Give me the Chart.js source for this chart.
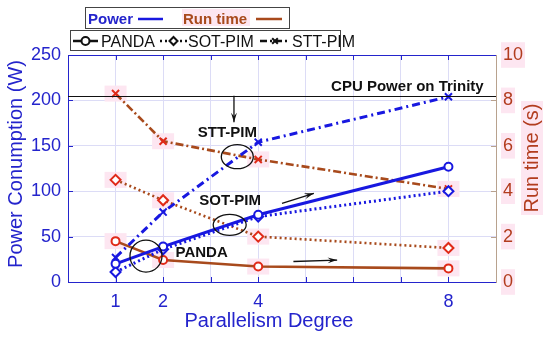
<!DOCTYPE html>
<html>
<head>
<meta charset="utf-8">
<script src="https://cdn.jsdelivr.net/npm/chart.js@4.4.1/dist/chart.umd.min.js"></script>
<style>
  html, body { margin: 0; padding: 0; background: #fff; }
</style>
</head>
<body>
<canvas id="chart" width="550" height="338"></canvas>
<script>
// Data
const parallelism = [1, 2, 4, 8];
const xTickLabels = [1, 2, 4, 8];
const pandaPower = [20, 39, 74, 127];
const sotPower = [11, 36, 72, 100];
const sttPower = [27, 77, 154, 204];
const pandaRuntime = [1.8, 0.97, 0.68, 0.6];
const sotRuntime = [4.5, 3.6, 2.0, 1.5];
const sttRuntime = [8.3, 6.2, 5.4, 4.1];
const cpuPower = 205;

const FONT = "'Liberation Sans', Arial, sans-serif";
const BLUE = '#1818e0';
const BLUE_TEXT = '#2424cc';
const BROWN = '#a84a1c';
const RED = '#e02a18';
const RUN_TEXT = '#b23c1e';
const GRID = '#dcdcf6';
const TAN = '#b8a28e';
const PINK = '#fde6f1';

Chart.defaults.font.family = FONT;

function pts(values) {
  return values.map((v, i) => ({ x: parallelism[i], y: v }));
}

function powerSet(label, values, dash, style, radius) {
  return {
    label, data: pts(values), yAxisID: 'y', order: 1,
    borderColor: BLUE, borderWidth: 3, borderDash: dash,
    pointStyle: style, pointRadius: radius, pointBorderWidth: 2,
    pointBorderColor: BLUE, pointBackgroundColor: '#fff'
  };
}

function runSet(label, values, dash, style, radius) {
  return {
    label, data: pts(values), yAxisID: 'y2', order: 2,
    borderColor: BROWN, borderWidth: 2.6, borderDash: dash,
    pointStyle: style, pointRadius: radius, pointBorderWidth: 2,
    pointBorderColor: RED, pointBackgroundColor: '#fff'
  };
}

// annotation positions in data units (x, watts)
const notes = [
  { text: 'STT-PIM', x: 3.35, y: 160 },
  { text: 'SOT-PIM', x: 3.41, y: 85 },
  { text: 'PANDA', x: 2.81, y: 27.5 }
];
const ellipses = [
  { x: 3.56, y: 138, rx: 16, ry: 12 },
  { x: 3.40, y: 63, rx: 16.5, ry: 10.5 },
  { x: 1.64, y: 28.6, rx: 16, ry: 16 }
];
const arrows = [
  { x1: 3.49, y1: cpuPower, x2: 3.49, y2: 176 },
  { x1: 4.50, y1: 86.7, x2: 5.17, y2: 97.7 },
  { x1: 4.74, y1: 22.6, x2: 5.66, y2: 24.2 }
];

function drawArrow(ctx, x1, y1, x2, y2) {
  const a = Math.atan2(y2 - y1, x2 - x1);
  ctx.beginPath();
  ctx.moveTo(x1, y1);
  ctx.lineTo(x2, y2);
  ctx.stroke();
  ctx.beginPath();
  ctx.moveTo(x2, y2);
  ctx.lineTo(x2 - 10 * Math.cos(a - 0.3), y2 - 10 * Math.sin(a - 0.3));
  ctx.lineTo(x2 - 6 * Math.cos(a), y2 - 6 * Math.sin(a));
  ctx.lineTo(x2 - 10 * Math.cos(a + 0.3), y2 - 10 * Math.sin(a + 0.3));
  ctx.closePath();
  ctx.fill();
}

const decor = {
  id: 'decor',
  beforeDatasetsDraw(chart) {
    const ctx = chart.ctx;
    ctx.save();
    ctx.fillStyle = PINK;
    chart.data.datasets.forEach((ds, i) => {
      if (ds.yAxisID !== 'y2') return;
      chart.getDatasetMeta(i).data.forEach(p => {
        ctx.fillRect(p.x - 11, p.y - 8, 22, 16);
      });
    });
    ctx.restore();
  },
  afterDatasetsDraw(chart) {
    const ctx = chart.ctx;
    const xs = chart.scales.x, ys = chart.scales.y;
    const area = chart.chartArea;
    ctx.save();
    // CPU power reference line
    const cy = Math.round(ys.getPixelForValue(cpuPower)) + 0.5;
    ctx.strokeStyle = '#111';
    ctx.lineWidth = 1.2;
    ctx.beginPath();
    ctx.moveTo(area.left, cy);
    ctx.lineTo(area.right, cy);
    ctx.stroke();
    ctx.fillStyle = '#111';
    ctx.font = 'bold 15px ' + FONT;
    ctx.textAlign = 'right';
    ctx.fillText('CPU Power on Trinity', xs.getPixelForValue(8.74), cy - 6);

    ctx.textAlign = 'center';
    notes.forEach(n => {
      ctx.fillText(n.text, xs.getPixelForValue(n.x), ys.getPixelForValue(n.y));
    });
    ctx.lineWidth = 1.3;
    ellipses.forEach(e => {
      ctx.beginPath();
      ctx.ellipse(xs.getPixelForValue(e.x), ys.getPixelForValue(e.y), e.rx, e.ry, 0, 0, Math.PI * 2);
      ctx.stroke();
    });
    arrows.forEach(a => {
      drawArrow(ctx, xs.getPixelForValue(a.x1), ys.getPixelForValue(a.y1),
        xs.getPixelForValue(a.x2), ys.getPixelForValue(a.y2));
    });
    ctx.restore();
  },
  afterDraw(chart) {
    const ctx = chart.ctx;
    const area = chart.chartArea;
    const xs = chart.scales.x, ys = chart.scales.y, y2 = chart.scales.y2;
    ctx.save();

    // top border and inward tick marks
    ctx.strokeStyle = BLUE_TEXT;
    ctx.lineWidth = 1;
    ctx.beginPath();
    ctx.moveTo(area.left, area.top + 0.5);
    ctx.lineTo(area.right, area.top + 0.5);
    for (let v = 1; v <= 8; v++) {
      const px = Math.round(xs.getPixelForValue(v)) + 0.5;
      ctx.moveTo(px, area.bottom); ctx.lineTo(px, area.bottom - 5);
      ctx.moveTo(px, area.top); ctx.lineTo(px, area.top + 5);
    }
    for (let v = 50; v < 250; v += 50) {
      const py = Math.round(ys.getPixelForValue(v)) + 0.5;
      ctx.moveTo(area.left, py); ctx.lineTo(area.left + 5, py);
    }
    ctx.stroke();
    ctx.strokeStyle = TAN;
    ctx.beginPath();
    for (let v = 2; v < 10; v += 2) {
      const py = Math.round(y2.getPixelForValue(v)) + 0.5;
      ctx.moveTo(area.right, py); ctx.lineTo(area.right - 5, py);
    }
    ctx.stroke();

    // axis titles
    ctx.font = '20px ' + FONT;
    ctx.textAlign = 'center';
    ctx.textBaseline = 'middle';
    ctx.fillStyle = BLUE_TEXT;
    ctx.fillText('Parallelism Degree', 269, 321);
    ctx.save();
    ctx.translate(16, 164);
    ctx.rotate(-Math.PI / 2);
    ctx.fillText('Power Conumption (W)', 0, 0);
    ctx.restore();
    ctx.save();
    ctx.translate(532, 158);
    ctx.rotate(-Math.PI / 2);
    ctx.globalCompositeOperation = 'destination-over';
    ctx.fillStyle = PINK;
    ctx.fillRect(-57, -11, 114, 22);
    ctx.globalCompositeOperation = 'source-over';
    ctx.fillStyle = RUN_TEXT;
    ctx.fillText('Run time (s)', 0, 0);
    ctx.restore();

    // legend box 1: Power / Run time
    ctx.textAlign = 'left';
    ctx.textBaseline = 'alphabetic';
    ctx.fillStyle = '#fff';
    ctx.fillRect(85, 8, 204, 20);
    ctx.strokeStyle = '#444';
    ctx.lineWidth = 1;
    ctx.strokeRect(85.5, 7.5, 204, 21);
    ctx.fillStyle = PINK;
    ctx.fillRect(182, 9, 68, 17);
    ctx.font = 'bold 15px ' + FONT;
    ctx.fillStyle = BLUE_TEXT;
    ctx.fillText('Power', 88, 24);
    ctx.fillStyle = BROWN;
    ctx.fillText('Run time', 183, 24);
    ctx.lineWidth = 2.5;
    ctx.strokeStyle = BLUE;
    ctx.beginPath(); ctx.moveTo(138, 19); ctx.lineTo(163, 19); ctx.stroke();
    ctx.strokeStyle = BROWN;
    ctx.beginPath(); ctx.moveTo(256, 19); ctx.lineTo(282, 19); ctx.stroke();

    // legend box 2: series styles
    ctx.fillStyle = '#fff';
    ctx.fillRect(70, 30, 270, 21);
    ctx.strokeStyle = '#444';
    ctx.lineWidth = 1;
    ctx.strokeRect(70.5, 30.5, 270, 20);
    ctx.strokeStyle = '#111';
    const ly = 41;
    const samples = [
      { x1: 73, x2: 98, dash: [], style: 'circle', text: 'PANDA', tx: 101 },
      { x1: 160, x2: 187, dash: [2, 3], style: 'rectRot', text: 'SOT-PIM', tx: 188 },
      { x1: 260, x2: 290, dash: [7, 3, 2, 3], style: 'crossRot', text: 'STT-PIM', tx: 292 }
    ];
    ctx.font = '16px ' + FONT;
    samples.forEach(s => {
      ctx.lineWidth = 2.5;
      ctx.setLineDash(s.dash);
      ctx.beginPath(); ctx.moveTo(s.x1, ly); ctx.lineTo(s.x2, ly); ctx.stroke();
      ctx.setLineDash([]);
      ctx.lineWidth = 2;
      ctx.fillStyle = '#fff';
      Chart.helpers.drawPoint(ctx, { pointStyle: s.style, radius: 4, rotation: 0, borderWidth: 2 },
        (s.x1 + s.x2) / 2, ly);
      ctx.fillStyle = '#111';
      ctx.fillText(s.text, s.tx, 47);
    });
    ctx.restore();
  }
};

new Chart(document.getElementById('chart'), {
  type: 'line',
  data: {
    datasets: [
      powerSet('PANDA', pandaPower, [], 'circle', 4),
      powerSet('SOT-PIM', sotPower, [2, 3], 'rectRot', 5),
      powerSet('STT-PIM', sttPower, [8, 4, 2, 4], 'crossRot', 5),
      runSet('PANDA', pandaRuntime, [], 'circle', 4),
      runSet('SOT-PIM', sotRuntime, [2, 3], 'rectRot', 5),
      runSet('STT-PIM', sttRuntime, [8, 3, 2, 3], 'crossRot', 5)
    ]
  },
  options: {
    responsive: false,
    animation: false,
    layout: { padding: { top: 55, left: 0, right: 0, bottom: 0 } },
    plugins: { legend: { display: false }, tooltip: { enabled: false } },
    scales: {
      x: {
        type: 'linear', min: 0, max: 9,
        afterFit(s) { s.height = 56; },
        ticks: {
          stepSize: 1, autoSkip: false, maxRotation: 0, padding: 9,
          color: BLUE_TEXT, font: { size: 18 },
          callback: v => xTickLabels.includes(v) ? String(v) : ''
        },
        grid: { color: GRID, drawTicks: false },
        border: { color: BLUE_TEXT }
      },
      y: {
        position: 'left', min: 0, max: 250,
        afterFit(s) { s.width = 68; },
        ticks: { stepSize: 50, padding: 7, color: BLUE_TEXT, font: { size: 18 } },
        grid: { color: GRID, drawTicks: false },
        border: { color: BLUE_TEXT }
      },
      y2: {
        position: 'right', min: 0, max: 10,
        afterFit(s) { s.width = 54; },
        ticks: {
          stepSize: 2, padding: 7, color: RUN_TEXT, font: { size: 18 },
          backdropColor: PINK, showLabelBackdrop: true, backdropPadding: 2
        },
        grid: { display: false, drawTicks: false },
        border: { color: TAN }
      }
    }
  },
  plugins: [decor]
});
</script>
</body>
</html>
